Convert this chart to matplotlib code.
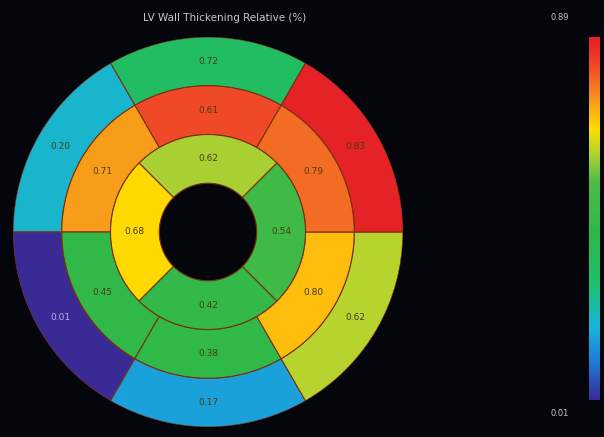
import matplotlib
matplotlib.use('Agg')
import matplotlib.pyplot as plt
import numpy as np
from matplotlib.colors import LinearSegmentedColormap, Normalize


# Segment labels, counter-clockwise from the top (anterior) segment
basal_labels = ['0.72', '0.20', '0.01', '0.17', '0.62', '0.83']
mid_labels = ['0.61', '0.71', '0.45', '0.38', '0.80', '0.79']
apical_labels = ['0.62', '0.68', '0.42', '0.54']

# Values used for the colour of each segment
basal_vals = [0.32, 0.20, 0.01, 0.16, 0.61, 0.88]
mid_vals = [0.82, 0.73, 0.42, 0.42, 0.70, 0.78]
apical_vals = [0.60, 0.67, 0.43, 0.49]

vmin, vmax = 0.01, 0.89
bar_labels = ['0.89', '0.01']

# Colormap similar to the one in the picture
cmap = LinearSegmentedColormap.from_list('bullseye', [
    (0.00, '#3a2a96'), (0.10, '#1f78d6'), (0.20, '#18b4dc'),
    (0.32, '#1ebf6c'), (0.45, '#2cb84a'), (0.60, '#4cbb45'),
    (0.68, '#b5d330'), (0.75, '#ffdc00'), (0.83, '#f7941e'),
    (0.92, '#f04a28'), (1.00, '#e41e26')])
norm = Normalize(vmin, vmax)

bg = '#04060c'
edge = '#7a3010'

fig = plt.figure(figsize=(6.04, 4.37), dpi=100, facecolor=bg)
ax = fig.add_axes([13 / 604, 10 / 437, 390 / 604, 390 / 437], projection='polar')
ax.set_facecolor(bg)


def ring(vals, labels, r0, start):
    n = len(vals)
    w = 2 * np.pi / n
    theta = np.deg2rad(start) + np.arange(n) * w
    ax.bar(theta, 1, width=w, bottom=r0, color=cmap(norm(vals)),
           edgecolor=edge, linewidth=0.8, align='center')
    for t, lab, v in zip(theta, labels, vals):
        c = '#b8b0d8' if v < 0.1 else '#4a3c14'
        ax.text(t, r0 + 0.5, lab, ha='center', va='center', fontsize=6.5, color=c)


ring(basal_vals, basal_labels, 3, 90)
ring(mid_vals, mid_labels, 2, 90)
ring(apical_vals, apical_labels, 1, 90)

ax.set_ylim(0, 4)
ax.axis('off')

fig.text(225 / 604, 1 - 18 / 437, 'LV Wall Thickening Relative (%)', ha='center',
         va='center', fontsize=7.5, color='#c8c8c8')

# colour bar
cax = fig.add_axes([589 / 604, 37 / 437, 11 / 604, 363 / 437])
sm = plt.cm.ScalarMappable(norm=norm, cmap=cmap)
cb = fig.colorbar(sm, cax=cax)
cb.outline.set_visible(False)
cb.set_ticks([])
fig.text(560 / 604, 1 - 18 / 437, bar_labels[0], ha='center', va='center',
         fontsize=6, color='#c8c8c8')
fig.text(560 / 604, 1 - 413 / 437, bar_labels[1], ha='center', va='center',
         fontsize=6, color='#c8c8c8')

fig.savefig('out.png', dpi=100, facecolor=bg)
